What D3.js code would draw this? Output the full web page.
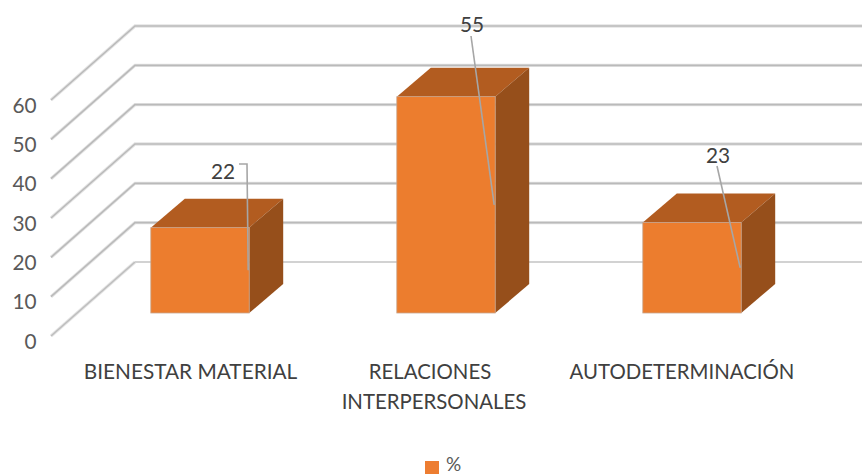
<!DOCTYPE html>
<html>
<head>
<meta charset="utf-8">
<script src="https://cdn.jsdelivr.net/npm/d3@7"></script>
<style>
html,body{margin:0;padding:0;background:#fff;}
svg{display:block;}
text{font-family:Lato,"Open Sans",sans-serif;}
</style>
</head>
<body>
<svg id="c" width="862" height="475"></svg>
<script>
const categories = [["BIENESTAR MATERIAL"], ["RELACIONES", "INTERPERSONALES"], ["AUTODETERMINACIÓN"]];
const values = [21.7, 55, 23];
const tickValues = [0, 10, 20, 30, 40, 50, 60];
const seriesName = "%";

const svg = d3.select("#c");
const W = 862;
const y = d3.scaleLinear().domain([0, 60]).range([336, 100]);
const x = d3.scaleBand().domain(d3.range(categories.length)).range([77, 815]).paddingInner(0.6).paddingOuter(0.3);
const wallX = 51, depthX = 84, depthY = 74;   // floor/wall depth
const barDX = 34, barDY = 29, barLift = 23;   // bar depth, lift from floor front edge

// gridlines
const grid = svg.append("g").attr("fill", "none");
tickValues.forEach(t => {
  const yF = y(t), yB = yF - depthY;
  const pts = [[wallX, yF], [wallX + depthX, yB], [W, yB]];
  const line = d3.line()(pts);
  if (t > 0) {
    grid.append("path").attr("d", line).attr("stroke", "#e4e4e4").attr("stroke-width", 3.4);
    grid.append("path").attr("d", line).attr("stroke", "#bababa").attr("stroke-width", 1.6);
  } else {
    grid.append("path").attr("d", d3.line()(pts.slice(0, 2))).attr("stroke", "#e4e4e4").attr("stroke-width", 3.2);
    grid.append("path").attr("d", d3.line()(pts.slice(0, 2))).attr("stroke", "#bebebe").attr("stroke-width", 1.6);
    grid.append("path").attr("d", d3.line()(pts.slice(1))).attr("stroke", "#d2d2d2").attr("stroke-width", 2.2);
  }
});

// tick labels
svg.append("g").selectAll("text").data(tickValues).join("text")
  .attr("x", 36.5).attr("y", d => y(d) + 12.5)
  .attr("text-anchor", "end").attr("fill", "#595959").attr("font-size", 20.8)
  .text(d => d);

// bars
const bars = svg.append("g").selectAll("g").data(values).join("g");
const bx0 = (d, i) => x(i), bx1 = (d, i) => x(i) + x.bandwidth();
const bTop = d => y(d) - barLift, bBot = () => y(0) - barLift;
const poly = a => a.map(p => p.join(",")).join(" ");
bars.append("polygon").attr("fill", "#b25c20")
  .attr("points", (d, i) => poly([[bx0(d, i), bTop(d)], [bx1(d, i), bTop(d)], [bx1(d, i) + barDX, bTop(d) - barDY], [bx0(d, i) + barDX, bTop(d) - barDY]]));
bars.append("polygon").attr("fill", "#964f1b")
  .attr("points", (d, i) => poly([[bx1(d, i), bTop(d)], [bx1(d, i) + barDX, bTop(d) - barDY], [bx1(d, i) + barDX, bBot() - barDY], [bx1(d, i), bBot()]]));
bars.append("rect").attr("fill", "#ec7d2e").attr("stroke", "#c9a68e").attr("stroke-width", 0.8)
  .attr("x", (d, i) => bx0(d, i)).attr("y", d => bTop(d))
  .attr("width", x.bandwidth()).attr("height", d => bBot() - bTop(d));

// leader lines & data labels
const labelPos = [[223, 178.5], [472, 31.5], [718, 162.5]];
const leaderStart = [[[239, 164], [247, 164]], [[471, 36]], [[717, 166]]];
const lead = svg.append("g").attr("fill", "none").attr("stroke", "#a6a6a6").attr("stroke-width", 1.6);
values.forEach((v, i) => {
  const end = [x(i) + x.bandwidth() - 1, (bTop(v) + bBot()) / 2];
  lead.append("path").attr("d", d3.line()([...leaderStart[i], end]));
});
svg.append("g").selectAll("text").data(values).join("text")
  .attr("x", (d, i) => labelPos[i][0]).attr("y", (d, i) => labelPos[i][1])
  .attr("text-anchor", "middle").attr("fill", "#404040").attr("font-size", 20.8)
  .text(d => Math.round(d));

// category labels
const catX = [190.5, 434, 682];
const catSize = [20.8, 20.4, 20.4];
categories.forEach((lines, i) => {
  lines.forEach((s, k) => {
    svg.append("text").attr("x", catX[i] - (lines.length > 1 && k === 0 ? 4 : 0)).attr("y", 379 + k * 29.5)
      .attr("text-anchor", "middle").attr("fill", "#404040").attr("font-size", catSize[i]).text(s);
  });
});

// legend
svg.append("rect").attr("x", 425).attr("y", 461).attr("width", 14).attr("height", 13).attr("fill", "#ed7d31");
svg.append("text").attr("x", 446).attr("y", 471).attr("fill", "#595959").attr("font-size", 19).text(seriesName);
</script>
</body>
</html>
